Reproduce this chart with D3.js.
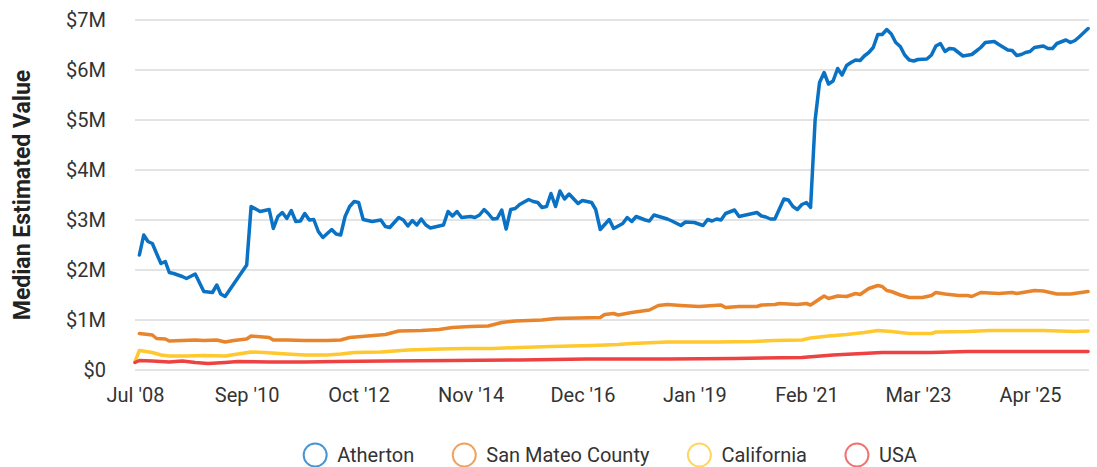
<!DOCTYPE html>
<html><head><meta charset="utf-8">
<script src="https://cdn.jsdelivr.net/npm/d3@7"></script>
<style>body{margin:0;background:#fff;} text{font-family:Roboto, sans-serif;}</style>
</head><body><svg id="chart" width="1097" height="467"></svg>
<script>
const seriesNames = ["Atherton", "San Mateo County", "California", "USA"];
const seriesColors = ["#0a72c4", "#e8842c", "#ffc82e", "#ee4242"];
const yTickValues = [0, 1, 2, 3, 4, 5, 6, 7];
const yTickLabels = ["$0", "$1M", "$2M", "$3M", "$4M", "$5M", "$6M", "$7M"];
const xTickDates = ["2008-07", "2010-09", "2012-10", "2014-11", "2016-12", "2019-01", "2021-02", "2023-03", "2025-04"];
const xTickLabels = ["Jul '08", "Sep '10", "Oct '12", "Nov '14", "Dec '16", "Jan '19", "Feb '21", "Mar '23", "Apr '25"];

// values in $ millions
const athertonData = [
["2008-08",2.30],["2008-09",2.70],["2008-10",2.57],["2008-11",2.53],["2008-12",2.33],["2009-01",2.13],["2009-02",2.17],
["2009-03",1.95],["2009-04",1.93],["2009-05",1.90],["2009-06",1.87],["2009-07",1.83],["2009-09",1.92],["2009-11",1.57],
["2010-01",1.55],["2010-02",1.70],["2010-03",1.52],["2010-04",1.47],["2010-09",2.10],["2010-10",3.27],["2010-12",3.17],
["2011-02",3.21],["2011-03",2.83],["2011-04",3.07],["2011-05",3.15],["2011-06",3.03],["2011-07",3.19],["2011-08",2.97],
["2011-09",2.98],["2011-10",3.13],["2011-11",3.00],["2011-12",3.01],["2012-01",2.77],["2012-02",2.65],["2012-04",2.81],
["2012-05",2.72],["2012-06",2.70],["2012-07",3.07],["2012-08",3.27],["2012-09",3.37],["2012-10",3.35],["2012-11",3.01],
["2013-01",2.97],["2013-03",3.00],["2013-04",2.87],["2013-05",2.85],["2013-07",3.05],["2013-08",3.00],["2013-09",2.88],
["2013-10",2.99],["2013-11",2.90],["2013-12",3.02],["2014-01",2.90],["2014-02",2.84],["2014-05",2.90],["2014-06",3.17],
["2014-07",3.08],["2014-08",3.17],["2014-09",3.05],["2014-11",3.07],["2014-12",3.05],["2015-01",3.10],["2015-02",3.21],
["2015-03",3.13],["2015-04",3.02],["2015-05",3.03],["2015-06",3.20],["2015-07",2.82],["2015-08",3.21],["2015-09",3.23],
["2015-10",3.31],["2015-12",3.41],["2016-01",3.37],["2016-02",3.35],["2016-03",3.25],["2016-04",3.27],["2016-05",3.53],
["2016-06",3.27],["2016-07",3.58],["2016-08",3.42],["2016-09",3.52],["2016-11",3.33],["2016-12",3.39],["2017-02",3.35],
["2017-03",3.21],["2017-04",2.81],["2017-06",3.01],["2017-07",2.83],["2017-09",2.93],["2017-10",3.05],["2017-11",2.97],
["2017-12",3.07],["2018-02",3.00],["2018-03",2.98],["2018-04",3.10],["2018-07",3.02],["2018-08",2.98],["2018-10",2.89],
["2018-11",2.96],["2019-01",2.95],["2019-03",2.89],["2019-04",3.01],["2019-05",2.98],["2019-06",3.02],["2019-07",3.00],
["2019-08",3.13],["2019-10",3.20],["2019-11",3.07],["2019-12",3.09],["2020-02",3.13],["2020-03",3.15],["2020-04",3.08],
["2020-05",3.06],["2020-06",3.02],["2020-07",3.02],["2020-09",3.42],["2020-10",3.40],["2020-11",3.27],["2020-12",3.21],
["2021-01",3.31],["2021-02",3.35],["2021-03",3.25],["2021-04",5.00],["2021-05",5.75],["2021-06",5.95],["2021-07",5.72],
["2021-08",5.78],["2021-09",6.03],["2021-10",5.90],["2021-11",6.09],["2021-12",6.15],["2022-01",6.20],["2022-02",6.19],
["2022-03",6.28],["2022-04",6.35],["2022-05",6.45],["2022-06",6.71],["2022-07",6.71],["2022-08",6.81],["2022-09",6.72],
["2022-10",6.55],["2022-11",6.47],["2022-12",6.30],["2023-01",6.20],["2023-02",6.18],["2023-03",6.21],["2023-05",6.22],
["2023-06",6.30],["2023-07",6.48],["2023-08",6.53],["2023-09",6.37],["2023-10",6.43],["2023-11",6.42],["2024-01",6.28],
["2024-03",6.31],["2024-04",6.38],["2024-05",6.45],["2024-06",6.55],["2024-08",6.57],["2024-09",6.51],["2024-11",6.40],
["2024-12",6.39],["2025-01",6.29],["2025-02",6.31],["2025-03",6.35],["2025-04",6.37],["2025-05",6.45],["2025-07",6.48],
["2025-08",6.43],["2025-09",6.43],["2025-10",6.53],["2025-12",6.60],["2026-01",6.55],["2026-02",6.59],["2026-03",6.66],
["2026-05",6.83]
];
const sanMateoData = [
["2008-08",0.73],["2008-11",0.70],["2008-12",0.63],["2009-02",0.62],["2009-03",0.58],["2009-06",0.59],["2009-09",0.60],
["2009-11",0.59],["2010-02",0.60],["2010-04",0.56],["2010-06",0.59],["2010-09",0.62],["2010-10",0.68],["2011-02",0.65],
["2011-03",0.60],["2011-06",0.60],["2011-10",0.59],["2012-03",0.59],["2012-06",0.60],["2012-08",0.65],["2012-12",0.68],
["2013-04",0.71],["2013-07",0.78],["2013-12",0.79],["2014-04",0.81],["2014-07",0.85],["2014-11",0.87],["2015-03",0.88],
["2015-06",0.95],["2015-09",0.98],["2016-03",1.00],["2016-06",1.03],["2017-04",1.05],["2017-05",1.11],["2017-07",1.13],
["2017-08",1.10],["2017-11",1.15],["2018-03",1.20],["2018-05",1.29],["2018-07",1.31],["2018-10",1.29],["2019-02",1.27],
["2019-07",1.30],["2019-08",1.25],["2019-11",1.27],["2020-03",1.27],["2020-04",1.30],["2020-07",1.31],["2020-08",1.33],
["2020-12",1.31],["2021-02",1.33],["2021-03",1.30],["2021-06",1.48],["2021-07",1.43],["2021-09",1.48],["2021-11",1.47],
["2022-01",1.53],["2022-02",1.51],["2022-04",1.63],["2022-06",1.69],["2022-07",1.67],["2022-08",1.59],["2022-09",1.57],
["2022-11",1.50],["2023-01",1.45],["2023-04",1.45],["2023-06",1.49],["2023-07",1.55],["2023-09",1.52],["2023-12",1.49],
["2024-02",1.49],["2024-03",1.47],["2024-05",1.55],["2024-09",1.53],["2024-12",1.55],["2025-01",1.53],["2025-05",1.59],
["2025-07",1.58],["2025-10",1.52],["2026-01",1.52],["2026-05",1.57]
];
const californiaData = [
["2008-07",0.17],["2008-08",0.39],["2008-11",0.35],["2009-01",0.30],["2009-03",0.28],["2009-07",0.28],["2009-11",0.29],
["2010-04",0.28],["2010-07",0.32],["2010-10",0.36],["2011-01",0.35],["2011-06",0.32],["2011-10",0.30],["2012-03",0.30],
["2012-06",0.32],["2012-09",0.35],["2013-03",0.36],["2013-09",0.40],["2014-04",0.42],["2014-10",0.43],["2015-04",0.43],
["2015-10",0.45],["2016-05",0.47],["2017-02",0.49],["2017-08",0.51],["2017-11",0.53],["2018-07",0.56],["2019-06",0.56],
["2020-02",0.57],["2020-07",0.59],["2021-01",0.60],["2021-03",0.64],["2021-07",0.68],["2021-11",0.71],["2022-03",0.75],
["2022-06",0.79],["2022-09",0.77],["2023-01",0.73],["2023-06",0.73],["2023-07",0.76],["2024-02",0.77],["2024-07",0.79],
["2025-07",0.79],["2026-02",0.77],["2026-05",0.78]
];
const usaData = [
["2008-07",0.15],["2008-08",0.19],["2008-11",0.18],["2009-03",0.16],["2009-06",0.18],["2009-09",0.15],["2009-12",0.13],
["2010-04",0.15],["2010-07",0.17],["2011-02",0.16],["2011-10",0.16],["2012-05",0.17],["2013-04",0.18],["2014-07",0.19],
["2015-10",0.20],["2017-01",0.22],["2017-08",0.22],["2018-07",0.22],["2019-10",0.23],["2021-01",0.25],["2021-08",0.30],
["2022-07",0.35],["2023-06",0.35],["2024-02",0.37],["2025-05",0.37],["2026-05",0.37]
];
const seriesData = [athertonData, sanMateoData, californiaData, usaData];

(function () {
const parse = d3.timeParse("%Y-%m");
const svg = d3.select("#chart");
const plotLeft = 135, plotRight = 1089, plotTop = 20, plotBottom = 370;
const fontSize = 20;

// x axis: tick spacing as drawn (first interval covers 26 months, the rest 25)
const x = d3.scaleTime()
  .domain([parse(xTickDates[0]), parse(xTickDates[1]), parse(xTickDates[8])])
  .range([plotLeft, 246.7, 1030]);
const y = d3.scaleLinear().domain([0, 7]).range([plotBottom, plotTop]);

// gridlines
svg.append("g").selectAll("line").data(yTickValues).join("line")
  .attr("x1", plotLeft).attr("x2", plotRight)
  .attr("y1", d => y(d)).attr("y2", d => y(d))
  .attr("stroke", "#c8c8c8").attr("stroke-width", 1);

// y axis labels
const yAxis = d3.axisLeft(y).tickValues(yTickValues).tickFormat((d, i) => yTickLabels[i]).tickSize(0).tickPadding(29);
const yg = svg.append("g").attr("transform", `translate(${plotLeft},0)`).call(yAxis);
yg.select(".domain").remove();
yg.selectAll("text").attr("font-size", fontSize).attr("fill", "#333").attr("font-family", "Roboto, sans-serif");

// x axis labels
const xAxis = d3.axisBottom(x).tickValues(xTickDates.map(parse)).tickFormat((d, i) => xTickLabels[i]).tickSize(0).tickPadding(18);
const xg = svg.append("g").attr("transform", `translate(0,${plotBottom})`).call(xAxis);
xg.select(".domain").remove();
xg.selectAll("text").attr("font-size", fontSize).attr("fill", "#333").attr("font-family", "Roboto, sans-serif");

// y title
svg.append("text")
  .attr("transform", `translate(30,195) rotate(-90)`)
  .attr("text-anchor", "middle")
  .attr("font-size", 23).attr("font-weight", "bold").attr("fill", "#222")
  .text("Median Estimated Value");

// lines
const line = d3.line().x(d => x(parse(d[0]))).y(d => y(d[1]));
seriesData.forEach((data, i) => {
  svg.append("path").datum(data)
    .attr("fill", "none").attr("stroke", seriesColors[i])
    .attr("stroke-width", 3.5).attr("stroke-linejoin", "round").attr("stroke-linecap", "round")
    .attr("d", line);
});

// legend
const legend = svg.append("g");
const gap = 38;
let cx = 0;
seriesNames.forEach((name, i) => {
  const g = legend.append("g").attr("transform", `translate(${cx},0)`);
  g.append("circle").attr("cx", 12).attr("cy", 0).attr("r", 11.5)
    .attr("fill", "none").attr("stroke", seriesColors[i]).attr("stroke-width", 2).attr("stroke-opacity", 0.75);
  const t = g.append("text").attr("x", 34).attr("y", 7).attr("font-size", fontSize).attr("fill", "#333").text(name);
  cx += 34 + t.node().getComputedTextLength() + gap;
});
const lw = cx - gap;
legend.attr("transform", `translate(${610 - lw / 2},455)`);
})();
</script>
</body></html>
